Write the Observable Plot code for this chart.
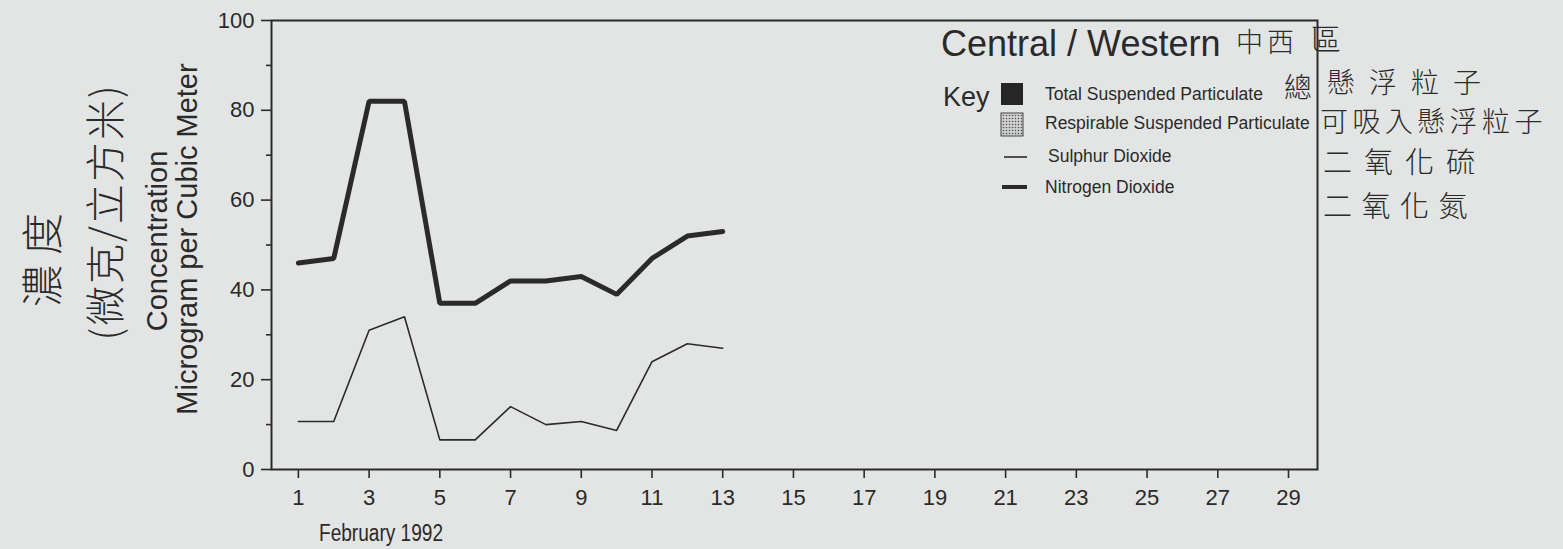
<!DOCTYPE html>
<html><head><meta charset="utf-8">
<script src="https://cdn.jsdelivr.net/npm/d3@7"></script>
<script src="https://cdn.jsdelivr.net/npm/@observablehq/plot@0.6"></script>
<style>
html,body{margin:0;padding:0;background:#e3e5e4;}
#chart{position:relative;width:1563px;height:549px;overflow:hidden;}
</style></head><body><div id="chart"></div>
<script>
// ---- data ----
const days = [1,2,3,4,5,6,7,8,9,10,11,12,13];
const nitrogenDioxide = [46,47,82,82,37,37,42,42,43,39,47,52,53];
const sulphurDioxide = [10.7,10.7,31,34,6.6,6.6,14,10,10.7,8.7,24,28,27];
const xTicks = [1,3,5,7,9,11,13,15,17,19,21,23,25,27,29];
const yTicks = [0,20,40,60,80,100];
const yMinorTicks = [10,30,50,70,90];
const titleText = "Central / Western";
const titleNote = ["中西", "區"];
const legendLabels = ["Total Suspended Particulate","Respirable Suspended Particulate","Sulphur Dioxide","Nitrogen Dioxide"];
const legendNotes = ["總", "懸浮粒子", "可吸入懸浮粒子", "二氧化硫", "二氧化氮"];
const yLabel = ["Concentration", "Microgram per Cubic Meter"];
const yNote = ["濃度", "(微克/立方米)"];
const xLabel = "February 1992";

const ink = "#2a2a2a";
const rows = days.map((d,i)=>({day:d, no2:nitrogenDioxide[i], so2:sulphurDioxide[i]}));

const svg = Plot.plot({
  width:1563, height:549,
  marginLeft:271, marginRight:246, marginTop:20, marginBottom:80,
  x:{domain:[0.24,29.82]},
  y:{domain:[0,100]},
  style:{background:"transparent", color:ink, fontFamily:"'Liberation Sans', Arial, sans-serif", overflow:"visible"},
  marks:[
    Plot.axisY(yTicks, {tickSize:10, tickPadding:7, fontSize:22, label:null, strokeWidth:1.6}),
    Plot.axisY(yMinorTicks, {tickSize:5, tickFormat:()=>"", label:null, strokeWidth:1.6}),
    Plot.axisX(xTicks, {tickSize:9, tickPadding:11, fontSize:22, label:null, strokeWidth:1.6}),
    Plot.frame({stroke:ink, strokeWidth:2}),
    Plot.line(rows, {x:"day", y:"so2", stroke:ink, strokeWidth:1.6}),
    Plot.line(rows, {x:"day", y:"no2", stroke:ink, strokeWidth:5, strokeLinejoin:"miter"})
  ]
});
document.getElementById("chart").appendChild(svg);

// ---- annotations ----
const s = d3.select(svg);
const sans = "'Liberation Sans', Arial, sans-serif";
const cjk = "'Noto Sans CJK TC', 'Noto Sans CJK SC', sans-serif";
const defs = s.append("defs");
const pat = defs.append("pattern").attr("id","stip").attr("width",3).attr("height",3).attr("patternUnits","userSpaceOnUse");
pat.append("rect").attr("width",3).attr("height",3).attr("fill","#d0d2d1");
pat.append("circle").attr("cx",1.5).attr("cy",1.5).attr("r",0.8).attr("fill","#555");

const g = s.append("g").attr("text-anchor","start");
function txt(x,y,t,size,opts={}){
  const e = g.append("text").attr("x",x).attr("y",y).text(t)
    .attr("fill",ink).style("font-family",opts.family||sans).style("font-size",size+"px")
    .attr("text-anchor",opts.anchor||"start");
  if(opts.ls) e.style("letter-spacing",opts.ls+"px");
  if(opts.weight) e.style("font-weight",opts.weight);
  if(opts.len) e.attr("textLength",opts.len).attr("lengthAdjust","spacingAndGlyphs");
  if(opts.rotate) e.attr("transform",`rotate(${opts.rotate},${x},${y})`);
  if(opts.baseline) e.attr("dominant-baseline",opts.baseline);
  return e;
}
// title
txt(941,56,titleText,36);
txt(1236,52,titleNote[0],27,{family:cjk, ls:4, weight:300});
txt(1311,50,titleNote[1],30,{family:cjk, weight:300});
// key
txt(943,106,"Key",27);
g.append("rect").attr("x",1001).attr("y",83).attr("width",22).attr("height",22).attr("fill","#262626");
g.append("rect").attr("x",1001).attr("y",113).attr("width",22).attr("height",23).attr("fill","url(#stip)").attr("stroke","#444").attr("stroke-width",1);
g.append("line").attr("x1",1004).attr("x2",1027).attr("y1",157).attr("y2",157).attr("stroke",ink).attr("stroke-width",1.6);
g.append("line").attr("x1",1002).attr("x2",1027).attr("y1",187).attr("y2",187).attr("stroke",ink).attr("stroke-width",4);
txt(1045,100,legendLabels[0],17.5);
txt(1045,129,legendLabels[1],17.5);
txt(1048,162,legendLabels[2],17.5);
txt(1045,193,legendLabels[3],17.5);
// handwritten notes
txt(1284,98,legendNotes[0],28,{family:cjk, weight:300});
txt(1327,93,legendNotes[1],28,{family:cjk, ls:14, weight:300});
txt(1320,132,legendNotes[2],28,{family:cjk, ls:4.4, weight:300});
txt(1323,173,legendNotes[3],29,{family:cjk, ls:12, weight:300});
txt(1323,217,legendNotes[4],29,{family:cjk, ls:9.5, weight:300});
// y labels
txt(157,241,yLabel[0],29,{anchor:"middle", baseline:"central", rotate:-90});
txt(187,239,yLabel[1],29,{anchor:"middle", baseline:"central", rotate:-90});
txt(39,255,yNote[0],42,{family:cjk, anchor:"middle", baseline:"central", rotate:-90, ls:10, weight:300});
txt(103,212,yNote[1],40,{family:cjk, anchor:"middle", baseline:"central", rotate:-90, ls:2, weight:300});
// x label
txt(319,541,xLabel,23,{len:124});
</script></body></html>
